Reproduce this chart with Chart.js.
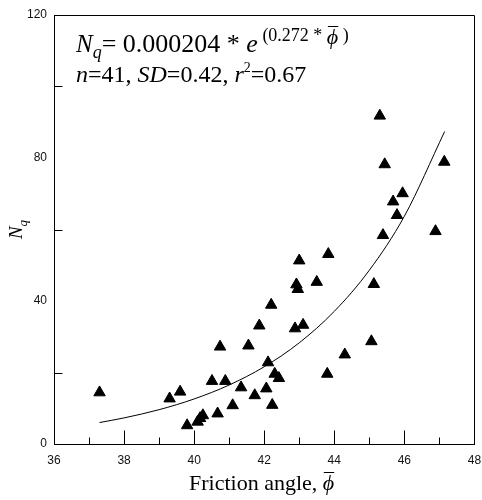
<!DOCTYPE html>
<html>
<head>
<meta charset="utf-8">
<script src="https://cdn.jsdelivr.net/npm/chart.js@4/dist/chart.umd.min.js"></script>
<style>
  html, body { margin: 0; padding: 0; background: #fff; }
  #wrap { width: 482px; height: 500px; }
</style>
</head>
<body>
<div id="wrap"><canvas id="c" width="482" height="500"></canvas></div>
<script>
// Measured friction angle (degrees) and bearing capacity factor Nq
const frictionAngle = [37.3, 39.3, 39.6, 39.8, 40.1, 40.17, 40.25, 40.67, 40.51, 40.89,
  40.74, 41.1, 41.34, 41.55, 41.73, 41.86, 42.06, 42.11, 42.2, 42.23,
  42.3, 42.42, 42.88, 43.11, 42.92, 42.96, 43.0, 43.5, 43.83, 43.8,
  44.3, 45.06, 45.13, 45.3, 45.39, 45.44, 45.68, 45.79, 45.95, 46.89, 47.14];
const nqValues = [14.4, 12.7, 14.6, 5.2, 6.2, 7.2, 8.0, 8.5, 17.6, 17.6,
  27.2, 10.8, 15.8, 27.5, 13.6, 33.1, 15.5, 22.8, 38.9, 10.9,
  19.6, 18.4, 32.3, 33.3, 44.6, 43.3, 51.3, 45.3, 53.1, 19.6,
  25.0, 28.7, 44.7, 91.8, 58.4, 78.2, 67.8, 64.0, 70.1, 59.5, 78.9];

// Fitted exponential trend line
const fitAngle = [37.3, 38, 39, 40, 41, 42, 43, 44, 45, 46, 47.15];
const fitNq = [6.0, 7.3, 9.6, 12.6, 16.5, 21.6, 28.3, 37.1, 48.6, 63.7, 87.4];

// Axis ranges and tick positions
const xRange = [36, 48];
const yRange = [0, 120];
const xMajorTicks = [38, 40, 42, 44, 46];
const xMinorTicks = [37, 39, 41, 43, 45, 47];
const yMinorTicks = [20, 60, 100];

const SERIF = '"Liberation Serif", "Times New Roman", serif';
const SANS = '"Liberation Sans", Arial, sans-serif';
const PHI = '\u03D5';

// Draw a sequence of text runs left to right on one baseline
function drawRuns(ctx, x, y, runs) {
  ctx.textAlign = 'left';
  ctx.textBaseline = 'alphabetic';
  for (const r of runs) {
    ctx.font = r.font;
    const w = ctx.measureText(r.text).width;
    ctx.fillText(r.text, x, y + (r.dy || 0));
    if (r.bar) {
      const m = ctx.measureText(r.text);
      const top = Math.round(y + (r.dy || 0) - m.actualBoundingBoxAscent - r.bar.gap) + 0.5;
      ctx.beginPath();
      ctx.lineWidth = 1;
      ctx.moveTo(x + r.bar.x0, top);
      ctx.lineTo(x + w + r.bar.x1, top);
      ctx.stroke();
    }
    x += w;
  }
  return x;
}

const decor = {
  id: 'decor',
  afterDraw(chart) {
    const { ctx, chartArea: a, scales } = chart;
    const xs = scales.x, ys = scales.y;
    ctx.save();
    ctx.strokeStyle = '#000';
    ctx.fillStyle = '#000';
    ctx.lineWidth = 1;

    // top and right frame
    ctx.beginPath();
    ctx.moveTo(Math.round(a.left) + 0.5, Math.round(a.top) + 0.5);
    ctx.lineTo(Math.round(a.right) + 0.5, Math.round(a.top) + 0.5);
    ctx.lineTo(Math.round(a.right) + 0.5, Math.round(a.bottom) + 0.5);
    ctx.stroke();

    // inward tick marks
    const by = Math.round(a.bottom) + 0.5;
    ctx.beginPath();
    for (const v of xMajorTicks) {
      const px = Math.round(xs.getPixelForValue(v)) + 0.5;
      ctx.moveTo(px, by); ctx.lineTo(px, by - 14);
    }
    for (const v of xMinorTicks) {
      const px = Math.round(xs.getPixelForValue(v)) + 0.5;
      ctx.moveTo(px, by); ctx.lineTo(px, by - 7);
    }
    const lx = Math.round(a.left) + 0.5;
    for (const v of yMinorTicks) {
      const py = Math.round(ys.getPixelForValue(v)) + 0.5;
      ctx.moveTo(lx, py); ctx.lineTo(lx + 8, py);
    }
    ctx.stroke();

    // regression equation
    drawRuns(ctx, 76, 52, [
      { text: 'N', font: 'italic 25px ' + SERIF },
      { text: 'q', font: 'italic 18px ' + SERIF, dy: 6 },
      { text: '=', font: '26px ' + SERIF },
      { text: ' 0.000204 * ', font: '26px ' + SERIF },
      { text: 'e', font: 'italic 26px ' + SERIF },
      { text: ' (0.272 * ', font: '18px ' + SERIF, dy: -11 },
      { text: PHI, font: 'italic 22px ' + SERIF, dy: -8, bar: { gap: 3, x0: 1, x1: 0 } },
      { text: ' )', font: '18px ' + SERIF, dy: -11 }
    ]);
    drawRuns(ctx, 76, 82, [
      { text: 'n', font: 'italic 24px ' + SERIF },
      { text: '=41, ', font: '24px ' + SERIF },
      { text: 'SD', font: 'italic 24px ' + SERIF },
      { text: '=0.42, ', font: '24px ' + SERIF },
      { text: 'r', font: 'italic 24px ' + SERIF },
      { text: '2', font: '14px ' + SERIF, dy: -10 },
      { text: '=0.67', font: '24px ' + SERIF }
    ]);

    // x axis title
    drawRuns(ctx, 189, 490, [
      { text: 'Friction angle, ', font: '22px ' + SERIF },
      { text: PHI, font: 'italic 22px ' + SERIF, bar: { gap: 3, x0: 1, x1: 0 } }
    ]);

    // y axis title (rotated)
    ctx.save();
    const cy = (a.top + a.bottom) / 2;
    ctx.translate(22, cy);
    ctx.rotate(-Math.PI / 2);
    ctx.font = 'italic 19px ' + SERIF;
    const wN = ctx.measureText('N').width;
    ctx.font = 'italic 13px ' + SERIF;
    const wq = ctx.measureText('q').width;
    drawRuns(ctx, -(wN + wq) / 2, 0, [
      { text: 'N', font: 'italic 19px ' + SERIF },
      { text: 'q', font: 'italic 13px ' + SERIF, dy: 5 }
    ]);
    ctx.restore();

    ctx.restore();
  }
};

const fitScale = (size, prop) => (s) => {
  s[prop] = size;
  s.paddingLeft = 0; s.paddingRight = 0; s.paddingTop = 0; s.paddingBottom = 0;
};

new Chart(document.getElementById('c'), {
  type: 'scatter',
  data: {
    datasets: [
      {
        label: 'Nq',
        data: frictionAngle.map((x, i) => ({ x, y: nqValues[i] })),
        pointStyle: 'triangle',
        pointRadius: 6.6,
        pointBorderWidth: 1,
        backgroundColor: '#000',
        borderColor: '#000',
        showLine: false
      },
      {
        label: 'fit',
        data: fitAngle.map((x, i) => ({ x, y: fitNq[i] })),
        showLine: true,
        pointRadius: 0,
        borderColor: '#000',
        borderWidth: 1,
        cubicInterpolationMode: 'monotone',
        fill: false
      }
    ]
  },
  options: {
    responsive: false,
    animation: false,
    devicePixelRatio: 1,
    layout: { padding: { top: 15, right: 5, left: 0, bottom: 0 } },
    plugins: { legend: { display: false }, tooltip: { enabled: false } },
    scales: {
      x: {
        type: 'linear',
        min: xRange[0], max: xRange[1],
        afterFit: fitScale(56, 'height'),
        grid: { drawOnChartArea: false, drawTicks: false },
        border: { display: true, color: '#000', width: 1 },
        ticks: { stepSize: 2, padding: 9, color: '#111', font: { family: SANS, size: 12 } }
      },
      y: {
        type: 'linear',
        min: yRange[0], max: yRange[1],
        afterFit: fitScale(54, 'width'),
        grid: { drawOnChartArea: false, drawTicks: false },
        border: { display: true, color: '#000', width: 1 },
        ticks: { stepSize: 40, padding: 7, color: '#111', font: { family: SANS, size: 12 } }
      }
    }
  },
  plugins: [decor]
});
</script>
</body>
</html>
